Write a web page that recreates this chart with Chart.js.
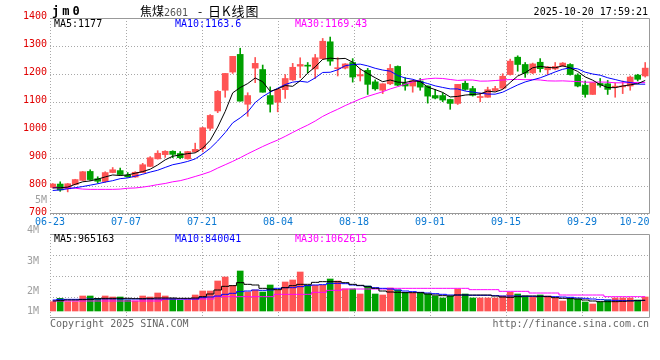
<!DOCTYPE html>
<html>
<head>
<meta charset="utf-8">
<script src="https://cdn.jsdelivr.net/npm/chart.js@4.4.1/dist/chart.umd.min.js"></script>
<style>
  body { margin: 0; background: #fff; }
  #wrap { position: relative; width: 660px; height: 360px; overflow: hidden; background: #fff;
          font-family: 'DejaVu Sans Mono', monospace; font-size: 10px; line-height: 12px; }
  canvas { position: absolute; left: 0; }
  #main { top: 0; }
  #vol { top: 222px; }
  .t { position: absolute; white-space: pre; z-index: 2; }
  .cjk { font: 12px/14px 'Noto Sans CJK SC', sans-serif; }
</style>
</head>
<body>
<div id="wrap">
  <canvas id="main" width="660" height="230"></canvas>
  <canvas id="vol" width="660" height="110"></canvas>

  <div class="t" style="left:52px;top:4px;font:bold 12px/14px 'DejaVu Sans Mono',monospace;letter-spacing:3px">jm0</div>
  <div class="t cjk" style="left:140px;top:4px">焦煤<span style="color:#555;font:10px/14px 'DejaVu Sans Mono',monospace">2601</span></div>
  <div class="t cjk" style="left:198px;top:4px">-</div>
  <div class="t cjk" style="left:208px;top:3px;font-size:13px;line-height:16px;letter-spacing:1px">日K线图</div>
  <div class="t" style="right:12px;top:6px">2025-10-20 17:59:21</div>

  <div class="t" style="left:54px;top:18px;color:#000">MA5:1177</div>
  <div class="t" style="left:175px;top:18px;color:#0000ff">MA10:1163.6</div>
  <div class="t" style="left:295px;top:18px;color:#ff00ff">MA30:1169.43</div>

  <div class="t" style="left:54px;top:233px;color:#000">MA5:965163</div>
  <div class="t" style="left:175px;top:233px;color:#0000ff">MA10:840041</div>
  <div class="t" style="left:295px;top:233px;color:#ff00ff">MA30:1062615</div>

  <div class="t" style="left:50px;top:318px;color:#666">Copyright 2025 SINA.COM</div>
  <div class="t" style="right:11px;top:318px;color:#666">http://finance.sina.com.cn</div>
</div>

<script>
// jm0 daily candles, 2025-06-23 .. 2025-10-20 (80 trading days)
const opens = [795, 807, 790, 805, 820, 852, 826, 816, 848, 855,
  839, 832, 848, 870, 897, 912, 924, 916, 897, 922,
  934, 1006, 1068, 1142, 1207, 1270, 1092, 1221, 1216, 1123,
  1099, 1144, 1179, 1228, 1230, 1218, 1255, 1315, 1219, 1221,
  1241, 1193, 1213, 1172, 1142, 1165, 1227, 1167, 1157, 1175,
  1157, 1123, 1123, 1109, 1095, 1167, 1148, 1116, 1117, 1141,
  1149, 1198, 1260, 1234, 1204, 1242, 1215, 1218, 1229, 1234,
  1196, 1160, 1127, 1166, 1165, 1153, 1154, 1157, 1196, 1193];
const highs = [809, 815, 809, 824, 852, 858, 833, 851, 866, 864,
  848, 851, 881, 905, 926, 926, 926, 923, 924, 953,
  1010, 1055, 1141, 1202, 1263, 1292, 1133, 1259, 1232, 1154,
  1145, 1198, 1238, 1258, 1241, 1270, 1327, 1332, 1258, 1237,
  1255, 1218, 1220, 1179, 1165, 1234, 1229, 1187, 1179, 1184,
  1158, 1145, 1133, 1110, 1163, 1175, 1156, 1132, 1153, 1156,
  1201, 1253, 1265, 1241, 1239, 1255, 1227, 1241, 1241, 1237,
  1201, 1175, 1169, 1184, 1177, 1168, 1175, 1193, 1199, 1241];
const lows = [793, 781, 779, 804, 819, 820, 810, 813, 847, 840,
  831, 831, 847, 869, 896, 902, 901, 897, 896, 921,
  922, 999, 1062, 1117, 1202, 1103, 1049, 1169, 1135, 1064,
  1065, 1113, 1177, 1187, 1204, 1184, 1252, 1231, 1193, 1218,
  1171, 1175, 1127, 1142, 1130, 1162, 1158, 1142, 1135, 1142,
  1096, 1111, 1101, 1074, 1091, 1142, 1121, 1101, 1117, 1139,
  1147, 1196, 1210, 1188, 1201, 1207, 1198, 1215, 1227, 1196,
  1154, 1117, 1127, 1153, 1127, 1117, 1130, 1142, 1175, 1189];
const closes = [807, 786, 808, 823, 851, 823, 817, 848, 858, 841,
  833, 849, 876, 901, 917, 924, 913, 901, 923, 931,
  1008, 1052, 1138, 1202, 1263, 1103, 1123, 1238, 1135, 1092,
  1145, 1184, 1224, 1234, 1228, 1258, 1317, 1246, 1222, 1236,
  1189, 1198, 1163, 1147, 1165, 1220, 1160, 1157, 1176, 1153,
  1121, 1114, 1107, 1095, 1163, 1145, 1124, 1118, 1144, 1148,
  1192, 1246, 1234, 1203, 1236, 1219, 1225, 1227, 1239, 1198,
  1157, 1127, 1169, 1160, 1145, 1155, 1157, 1189, 1181, 1221];

// moving averages as drawn on the price panel
const ma5 = [793, 794, 796, 806, 815, 818.2, 824.4, 832.4, 839.4, 837.4,
  839.4, 845.8, 851.4, 860, 875.2, 893.4, 906.2, 911.2, 915.6, 918.4,
  935.2, 963, 1010.4, 1066.2, 1132.6, 1151.6, 1165.8, 1185.8, 1172.4, 1138.2,
  1146.6, 1158.8, 1156, 1175.8, 1203, 1225.6, 1252.2, 1256.6, 1254.2, 1255.8,
  1242, 1218.2, 1201.6, 1186.6, 1172.4, 1178.6, 1171, 1169.8, 1175.6, 1173.2,
  1153.4, 1144.2, 1134.2, 1118, 1120, 1124.8, 1126.8, 1129, 1138.8, 1135.8,
  1145.2, 1169.6, 1192.8, 1204.6, 1222.2, 1227.6, 1223.4, 1222, 1229.2, 1221.6,
  1209.2, 1189.6, 1178, 1162.2, 1151.6, 1151.2, 1157.2, 1161.2, 1165.4, 1177];
const ma10 = [784, 786, 790, 794, 798, 803, 808, 814, 819, 826.2,
  828.8, 835.1, 841.9, 849.7, 856.3, 866.4, 876, 881.3, 887.8, 896.8,
  914.3, 934.6, 960.8, 990.9, 1025.5, 1043.4, 1064.4, 1098.1, 1119.3, 1135.4,
  1149.1, 1162.3, 1170.9, 1174.1, 1170.6, 1186.1, 1205.5, 1206.3, 1215, 1229.4,
  1233.8, 1235.2, 1229.1, 1220.4, 1214.1, 1210.3, 1194.6, 1185.7, 1181.1, 1172.8,
  1166, 1157.6, 1152, 1146.8, 1146.6, 1139.1, 1135.5, 1131.6, 1128.4, 1127.9,
  1135, 1148.2, 1160.9, 1171.7, 1179, 1186.4, 1196.5, 1207.4, 1216.9, 1221.9,
  1218.4, 1206.5, 1200, 1195.7, 1186.6, 1180.2, 1173.4, 1169.6, 1163.8, 1163.6];
const ma30 = [794, 794, 793, 792, 789, 788, 788, 788, 788, 789,
  792, 793, 796, 800, 805, 809, 815, 819, 826, 834,
  842, 851, 864, 876, 888, 901, 915, 928, 941, 953,
  964.1, 977.3, 991.2, 1004.9, 1017.5, 1032, 1048.6, 1061.9, 1074, 1087.2,
  1099.1, 1110.7, 1120.3, 1128.5, 1136.7, 1146.6, 1154.8, 1163.4, 1171.8, 1179.2,
  1183, 1185, 1184, 1180.4, 1177.1, 1178.5, 1178.5, 1174.5, 1174.8, 1176.7,
  1178.3, 1180.3, 1180.7, 1179.6, 1179.9, 1178.6, 1175.5, 1174.9, 1175.5, 1174.2,
  1173.1, 1170.8, 1171, 1171.4, 1170.7, 1168.6, 1168.5, 1169.5, 1169.7, 1169.4];

// volume (lots) and its averages as drawn
const volumes = [744000, 1016000, 744000, 744000, 1200000, 1200000, 1016000, 1200000, 1120000, 1120000,
  880000, 800000, 1200000, 1120000, 1440000, 1200000, 1016000, 856000, 880000, 1280000,
  1600000, 1600000, 2400000, 2720000, 2056000, 3200000, 1520000, 1680000, 1520000, 2080000,
  1680000, 2320000, 2480000, 3120000, 2056000, 2056000, 2056000, 2560000, 2400000, 1760000,
  1760000, 1360000, 2000000, 1360000, 1280000, 1840000, 1680000, 1496000, 1440000, 1440000,
  1360000, 1200000, 1040000, 1200000, 1760000, 1360000, 1040000, 1040000, 1040000, 1040000,
  1200000, 1496000, 1360000, 1200000, 1120000, 1280000, 1200000, 1040000, 800000, 1040000,
  960000, 720000, 560000, 720000, 880000, 1040000, 1040000, 1040000, 880000, 1120000];
const vma5 = [800000, 827000, 880000, 880000, 907000, 933000, 987000, 1013000, 1013000, 1013000,
  1013000, 987000, 987000, 1013000, 1040000, 1040000, 1040000, 1013000, 1013000, 1040000,
  1147000, 1360000, 1680000, 1973000, 2027000, 2267000, 2133000, 2080000, 1813000, 1760000,
  1707000, 1867000, 2027000, 2133000, 2133000, 2293000, 2347000, 2347000, 2347000, 2267000,
  2133000, 2053000, 1947000, 1813000, 1600000, 1520000, 1493000, 1467000, 1467000, 1467000,
  1360000, 1280000, 1227000, 1200000, 1280000, 1280000, 1280000, 1280000, 1280000, 1200000,
  1120000, 1093000, 1147000, 1200000, 1200000, 1173000, 1147000, 1067000, 1013000, 987000,
  960000, 880000, 800000, 747000, 747000, 747000, 773000, 800000, 827000, 853000];
const vma10 = [880000, 933000, 933000, 933000, 933000, 960000, 960000, 960000, 960000, 960000,
  960000, 960000, 960000, 960000, 960000, 960000, 960000, 960000, 960000, 960000,
  1067000, 1120000, 1200000, 1333000, 1413000, 1547000, 1600000, 1680000, 1653000, 1680000,
  1813000, 1867000, 1867000, 1947000, 2027000, 2080000, 2107000, 2213000, 2213000, 2187000,
  2080000, 2027000, 1973000, 1867000, 1813000, 1760000, 1680000, 1600000, 1547000, 1493000,
  1440000, 1387000, 1333000, 1280000, 1280000, 1280000, 1253000, 1253000, 1253000, 1227000,
  1200000, 1200000, 1200000, 1173000, 1173000, 1173000, 1173000, 1147000, 1120000, 1093000,
  1040000, 1013000, 960000, 907000, 880000, 853000, 827000, 827000, 827000, 853000];
const vma30 = [800000, 800000, 800000, 800000, 800000, 800000, 800000, 800000, 800000, 800000,
  800000, 800000, 800000, 800000, 800000, 960000, 960000, 960000, 960000, 960000,
  960000, 960000, 1147000, 1147000, 1147000, 1147000, 1147000, 1147000, 1147000, 1147000,
  1333000, 1333000, 1333000, 1333000, 1333000, 1493000, 1493000, 1653000, 1653000, 1760000,
  1760000, 1760000, 1760000, 1760000, 1760000, 1813000, 1813000, 1813000, 1813000, 1813000,
  1813000, 1813000, 1813000, 1813000, 1813000, 1813000, 1707000, 1707000, 1707000, 1707000,
  1573000, 1573000, 1573000, 1573000, 1440000, 1440000, 1440000, 1440000, 1280000, 1280000,
  1280000, 1280000, 1280000, 1280000, 1147000, 1147000, 1147000, 1147000, 1147000, 1147000];

// axis labels
const dateTickIdx = [0, 10, 20, 30, 40, 50, 60, 70, 79];
const dateTickLabels = ['06-23', '07-07', '07-21', '08-04', '08-18', '09-01', '09-15', '09-29', '10-20'];
const priceTicks = [700, 800, 900, 1000, 1100, 1200, 1300, 1400];
const volTickLabels = ['4M', '3M', '2M', '1M'];

const RED = '#ff5454';
const GREEN = '#00a000';
const GRID = '#a8a8a8';
const FRAME = '#999';

Chart.defaults.font.family = "'DejaVu Sans Mono', monospace";
Chart.defaults.font.size = 10;
Chart.defaults.animation = false;

const candleColors = opens.map((o, i) => (closes[i] >= o ? RED : GREEN));
const xy = arr => arr.map((y, x) => ({ x, y }));

// candles step 7.5px but sina spaces its date grid every 76px
const xMin = -0.36;
const xMax = 79.64;
const gridStep = 76 / 75;
const lastIdx = dateTickIdx[dateTickIdx.length - 1];
const tickPos = i => (i === lastIdx ? xMax - 2.07 : xMin + i * gridStep);

const framePlugin = {
  id: 'frame',
  afterDraw(chart) {
    const { ctx, chartArea: a } = chart;
    ctx.save();
    ctx.strokeStyle = FRAME;
    ctx.lineWidth = 1;
    ctx.beginPath();
    ctx.moveTo(a.left, a.top + 0.5);
    ctx.lineTo(a.right - 0.5, a.top + 0.5);
    ctx.lineTo(a.right - 0.5, a.bottom - 0.5);
    ctx.lineTo(a.left, a.bottom - 0.5);
    ctx.stroke();
    ctx.restore();
  },
};

const maLine = (label, data, color, extra) => Object.assign({
  type: 'line',
  label,
  data: xy(data),
  borderColor: color,
  borderWidth: 1,
  pointRadius: 0,
  tension: 0,
  order: 0,
}, extra || {});

// price panel
new Chart(document.getElementById('main'), {
  type: 'bar',
  data: {
    datasets: [
      maLine('MA5', ma5, '#000000'),
      maLine('MA10', ma10, '#0000ff'),
      maLine('MA30', ma30, '#ff00ff'),
      {
        label: 'body',
        data: opens.map((o, i) => ({ x: i, y: [o, closes[i]] })),
        backgroundColor: candleColors,
        barThickness: 6,
        minBarLength: 1,
        grouped: false,
        order: 1,
      },
      {
        label: 'wick',
        data: lows.map((l, i) => ({ x: i, y: [l, highs[i]] })),
        backgroundColor: candleColors,
        barThickness: 1,
        grouped: false,
        order: 2,
      },
    ],
  },
  options: {
    responsive: false,
    devicePixelRatio: 1,
    layout: { padding: { top: 18, right: 10, bottom: 0, left: 0 } },
    plugins: { legend: { display: false }, tooltip: { enabled: false } },
    scales: {
      x: {
        type: 'linear',
        min: xMin,
        max: xMax,
        offset: false,
        afterBuildTicks: s => { s.ticks = dateTickIdx.map(i => ({ value: tickPos(i) })); },
        afterFit: s => { s.height = 16; s.paddingLeft = 0; s.paddingRight = 0; },
        grid: {
          offset: false,
          drawTicks: false,
          color: c => (c.index === dateTickIdx.length - 1 ? 'rgba(0,0,0,0)' : GRID),
        },
        border: { display: false, dash: [1, 2] },
        ticks: {
          autoSkip: false,
          maxRotation: 0,
          padding: 2,
          color: '#0a78d2',
          callback: (v, i) => dateTickLabels[i],
        },
      },
      y: {
        type: 'linear',
        min: 700,
        max: 1400,
        afterBuildTicks: s => { s.ticks = priceTicks.map(v => ({ value: v })).concat([{ value: 740 }]); },
        afterFit: s => { s.width = 50; s.paddingTop = 0; s.paddingBottom = 0; },
        grid: {
          drawTicks: false,
          color: c => (c.tick && c.tick.value === 740 ? 'rgba(0,0,0,0)' : GRID),
        },
        border: { display: false, dash: [1, 2] },
        ticks: {
          padding: 3,
          labelOffset: -2,
          color: c => (c.tick && c.tick.value === 740 ? '#a0a0a0' : '#e00000'),
          callback: v => (v === 740 ? '5M' : String(v)),
        },
      },
    },
  },
  plugins: [framePlugin],
});

// volume panel: 80000 lots per pixel, bars stand 7px above the frame bottom
const volTickValues = [6160000, 3680000, 1280000, -320000];

new Chart(document.getElementById('vol'), {
  type: 'bar',
  data: {
    datasets: [
      maLine('VMA5', vma5, '#000000', { stepped: 'middle' }),
      maLine('VMA10', vma10, '#0000ff', { stepped: 'middle' }),
      maLine('VMA30', vma30, '#ff00ff', { stepped: 'middle' }),
      {
        label: 'volume',
        data: xy(volumes),
        backgroundColor: candleColors,
        barThickness: 6,
        grouped: false,
        order: 1,
      },
    ],
  },
  options: {
    responsive: false,
    devicePixelRatio: 1,
    layout: { padding: { top: 12, right: 10, bottom: 14, left: 0 } },
    plugins: { legend: { display: false }, tooltip: { enabled: false } },
    scales: {
      x: {
        type: 'linear',
        min: xMin,
        max: xMax,
        offset: false,
        afterBuildTicks: s => { s.ticks = dateTickIdx.slice(0, -1).map(i => ({ value: tickPos(i) })); },
        afterFit: s => { s.height = 0; s.paddingLeft = 0; s.paddingRight = 0; },
        grid: { offset: false, drawTicks: false, color: GRID },
        border: { display: false, dash: [1, 2] },
        ticks: { display: false },
      },
      y: {
        type: 'linear',
        min: -560000,
        max: 6160000,
        afterBuildTicks: s => { s.ticks = volTickValues.map(v => ({ value: v })); },
        afterFit: s => { s.width = 50; s.paddingTop = 0; s.paddingBottom = 0; },
        grid: { display: false },
        border: { display: false },
        ticks: {
          padding: 3,
          labelOffset: -4,
          color: '#a0a0a0',
          callback: (v, i) => volTickLabels[i],
        },
      },
      yg: {
        type: 'linear',
        position: 'right',
        min: 0,
        max: 4,
        afterBuildTicks: s => { s.ticks = [1, 2, 3].map(v => ({ value: v })); },
        afterFit: s => { s.width = 0; s.paddingTop = 0; s.paddingBottom = 0; },
        grid: { drawTicks: false, color: GRID },
        border: { display: false, dash: [1, 2] },
        ticks: { display: false },
      },
    },
  },
  plugins: [framePlugin],
});
</script>
</body>
</html>
